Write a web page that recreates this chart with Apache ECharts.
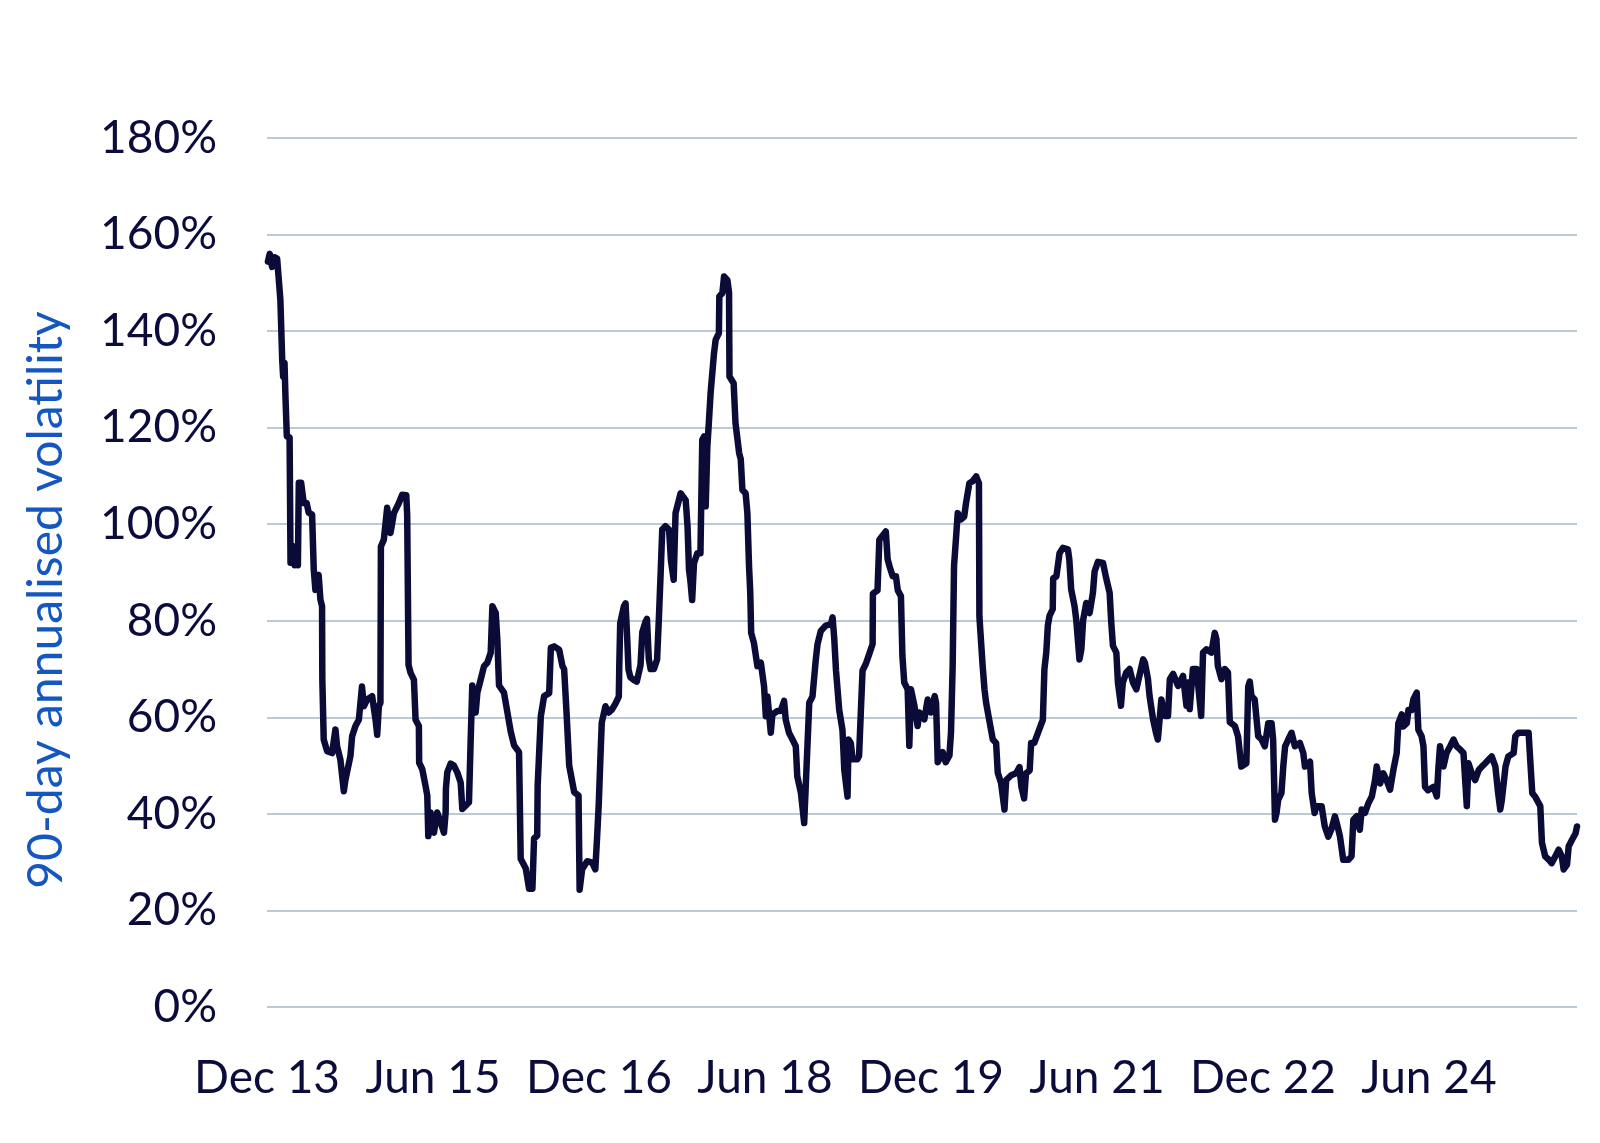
<!DOCTYPE html>
<html>
<head>
<meta charset="utf-8">
<script src="https://cdn.jsdelivr.net/npm/echarts@6/dist/echarts.min.js"></script>
<style>
  html, body { margin: 0; padding: 0; background: #fff; }
  #chart { width: 1600px; height: 1143px; }
</style>
</head>
<body>
<div id="chart"></div>
<script>
// months since Dec 2013 (fractional)
const monthOffset = [
  0.1, 0.3, 0.55, 0.8, 1.1, 1.45, 1.65, 1.75, 1.9, 2.0, 2.15, 2.45, 2.55, 2.8, 3.0, 3.2, 3.35, 3.45, 3.7, 3.98,
  4.3, 4.52, 4.89, 5.07, 5.25, 5.6, 5.79, 5.97, 6.0, 6.15, 6.52, 7.06, 7.42, 7.6, 7.96, 8.33, 8.5, 9.05, 9.23, 9.59,
  9.96, 10.3, 10.5, 10.86, 11.4, 11.77, 11.95, 12.13, 12.3, 12.35, 12.67, 13.03, 13.39, 13.76, 14.3, 14.66, 15.1, 15.2, 15.35, 15.57,
  15.93, 16.11, 16.47, 16.5, 16.83, 17.19, 17.38, 17.49, 17.74, 18.1, 18.46, 18.82, 19.19, 19.37, 19.4, 19.55, 19.91, 20.27, 20.63, 21.0,
  21.18, 21.54, 21.9, 22.08, 22.26, 22.63, 22.81, 23.17, 23.53, 23.89, 24.26, 24.44, 24.8, 24.98, 25.16, 25.7, 26.07, 26.43, 26.79, 27.33,
  27.51, 28.06, 28.42, 28.78, 28.96, 29.3, 29.35, 29.69, 30.05, 30.6, 30.78, 31.14, 31.68, 32.04, 32.22, 32.48, 32.77, 33.31, 33.78, 33.9,
  34.17, 34.72, 35.26, 35.6, 35.8, 35.98, 36.16, 36.3, 36.7, 37.07, 37.4, 37.8, 38.15, 38.2, 38.3, 38.7, 38.88, 39.06, 39.2, 39.4,
  39.8, 40.1, 40.5, 40.7, 41.05, 41.2, 41.4, 41.6, 41.96, 42.3, 42.5, 42.7, 42.86, 43.2, 43.6, 43.8, 44.1, 44.3, 44.85, 45.4,
  45.6, 45.76, 45.9, 46.1, 46.3, 46.66, 47.0, 47.2, 47.4, 47.57, 47.75, 47.93, 48.1, 48.47, 48.65, 49.0, 49.05, 49.38, 49.56, 49.92,
  50.1, 50.15, 50.6, 50.8, 51.2, 51.37, 51.55, 51.9, 52.09, 52.27, 52.4, 52.5, 52.8, 53.18, 53.55, 53.9, 54.09, 54.27, 54.63, 54.8,
  55.35, 55.7, 56.07, 56.25, 56.6, 56.98, 57.34, 57.5, 57.9, 58.25, 58.43, 58.8, 59.15, 59.5, 59.7, 60.05, 60.6, 61.15, 61.33, 61.5,
  61.7, 62.05, 62.4, 62.6, 62.95, 63.06, 63.3, 63.5, 64.0, 64.2, 64.4, 64.58, 64.94, 65.3, 65.67, 65.7, 66.2, 66.4, 67.1, 67.3,
  67.5, 67.85, 68.2, 68.4, 68.74, 68.9, 69.1, 69.47, 69.65, 69.83, 70.2, 70.55, 70.74, 71.28, 71.64, 72.0, 72.4, 72.55, 72.73, 73.27,
  73.6, 74.0, 74.17, 74.35, 74.5, 74.7, 74.9, 75.26, 75.6, 75.8, 76.16, 76.5, 76.9, 77.2, 77.25, 77.6, 77.8, 77.98, 78.3, 78.7,
  79.06, 79.24, 79.6, 79.97, 80.15, 80.7, 81.23, 81.6, 81.8, 82.1, 82.3, 82.7, 82.86, 83.2, 83.6, 84.13, 84.3, 84.5, 84.67, 84.85,
  85.2, 85.25, 85.6, 85.94, 86.3, 86.85, 87.0, 87.2, 87.57, 87.75, 88.1, 88.3, 88.5, 88.84, 89.2, 89.56, 89.74, 90.1, 90.65, 91.0,
  91.37, 91.55, 91.73, 92.1, 92.27, 92.6, 92.8, 93.18, 93.54, 93.9, 94.27, 94.6, 95.0, 95.2, 95.53, 95.7, 96.08, 96.4, 96.6, 96.98,
  97.34, 97.7, 97.9, 98.25, 98.8, 99.33, 99.7, 99.87, 100.05, 100.4, 100.8, 101.3, 101.5, 101.87, 102.4, 102.77, 102.95, 103.1, 103.5, 103.86,
  104.2, 104.4, 104.95, 105.3, 105.65, 106.2, 106.4, 106.57, 106.75, 107.1, 107.48, 107.85, 108.2, 108.57, 108.93, 109.1, 109.3, 109.47, 109.65, 110.0,
  110.2, 110.4, 110.74, 111.1, 111.46, 112.0, 112.37, 112.55, 113.1, 113.28, 113.6, 113.8, 114.36, 114.7, 115.08, 115.4, 115.8, 116.0, 116.35, 116.7,
  117.26, 117.6, 117.8, 118.16, 118.5, 118.7, 119.06, 119.43, 119.8, 120.15, 120.33, 120.7, 121.05, 121.4, 121.78, 122.14, 122.5, 122.68, 123.05, 123.2,
  123.6, 123.77, 124.1, 124.3, 124.67, 124.85, 125.2, 125.4, 125.57, 125.9, 126.5, 126.85, 127.03, 127.2, 127.57, 127.9, 128.3, 128.66, 129.0, 129.4,
  129.74, 130.1, 130.28, 130.64, 131.0, 131.4, 131.73, 132.1, 132.45, 132.8, 133.2, 133.5, 133.73, 133.9, 134.3, 134.6, 135.18, 135.36, 135.7, 136.3,
  136.8, 137.0, 137.2, 137.5, 138.07, 138.25, 138.6, 139.0, 139.3, 139.7, 140.06, 140.4, 140.6, 140.97, 141.15, 141.5, 141.9, 142.05
];

// 90-day annualised volatility, %
const volatility = [
  154.4, 156, 153.3, 155.3, 155, 146.5, 134, 130.6, 133.4, 126.5, 118.2, 118, 92, 95.5, 91.5, 95, 91.5, 108.6, 108.6, 104.4,
  104.4, 102.4, 102, 90.6, 86.4, 89.5, 84.4, 83, 67.8, 55.4, 53, 52.6, 57.5, 54, 51.2, 44.7, 47, 52, 56.1, 58.2,
  59.5, 66.4, 62.3, 63.7, 64.4, 59.5, 56.4, 62.3, 63, 95.4, 96.8, 103.4, 98.2, 102.3, 104.4, 106.1, 106, 102, 70.8, 69.2,
  67.8, 59.5, 58.2, 50.6, 49.3, 45.8, 43.8, 35.4, 40.3, 36.1, 40.3, 38.3, 36.1, 40.3, 45.2, 48.6, 50.4, 50, 48.6, 46.5,
  41, 41.7, 42.4, 54.9, 66.6, 61, 65.1, 67.8, 70.6, 71.3, 73.4, 83, 81.6, 76, 66.6, 65.1, 61, 57, 54.2, 52.8,
  30.7, 28.7, 24.5, 24.5, 34.9, 35.5, 45.9, 60.2, 64.4, 65, 74.4, 74.7, 74, 70.6, 70, 61, 50, 44.5, 43.8, 24.3,
  28.5, 30.2, 29.9, 28.5, 35.4, 42.3, 51.9, 58.9, 62.3, 61, 61.6, 62.9, 64.3, 70.6, 79.5, 83, 83.6, 76.3, 69.9, 68.3,
  67.7, 67.4, 70.8, 77.7, 79.8, 80.4, 72.1, 70, 70, 72, 80.8, 90.6, 98.9, 99.6, 98.9, 92.5, 88.5, 102.3, 106.4, 105,
  99.6, 90.6, 88.5, 84.3, 91.9, 94, 94, 117.5, 118.2, 103.7, 116.1, 121.6, 127.1, 135.4, 138.2, 139.6, 147.2, 147.9, 151.3, 150.6,
  148, 130.6, 129.2, 121, 114.7, 113.5, 107.1, 106.4, 102.3, 91.3, 86, 77.5, 75.4, 70.6, 71.3, 66.4, 60.2, 64.3, 56.8, 60.6,
  61.3, 61.3, 63.4, 59.5, 56.8, 55.4, 54, 47.8, 44.3, 38.1, 37.8, 63, 64.3, 71.8, 75.2, 77.9, 79, 79.3, 80.7, 76.6,
  69.7, 61.5, 57.4, 49.1, 43.6, 55.4, 54.7, 51.3, 51.3, 52, 61.5, 69.7, 71.1, 73.1, 75.2, 85.6, 86.3, 96.8, 98.5, 92.7,
  91.3, 89.2, 89.2, 86.3, 85.1, 72.7, 67.2, 65.8, 54.1, 65.8, 62.4, 58.2, 61, 59.6, 63.7, 61, 64.4, 63, 50.7, 52.8,
  50.7, 52.1, 56.9, 70.7, 91.4, 96.8, 102.3, 101, 101.6, 104.4, 108.5, 108.9, 109.9, 108.5, 80.9, 70.7, 65.8, 63, 59.6, 55.4,
  54.7, 48.5, 46.4, 40.9, 47, 48, 48.4, 49.7, 45.6, 43.2, 48.4, 49, 54.7, 54.7, 56.8, 59.5, 70, 73.4, 79, 81,
  82.4, 88.8, 89.2, 94, 95.1, 94.8, 92.7, 86.5, 83, 80.2, 72, 74, 80.2, 83.7, 81.6, 85.8, 90.2, 92.2, 92, 88.8,
  85.8, 79.6, 74.8, 73.4, 67.2, 62.4, 67.2, 69.3, 70, 67.2, 65.8, 68.6, 72, 71.3, 67.9, 64.4, 59.6, 56.8, 55.4, 63.7,
  60.3, 60.3, 67.9, 69, 66.5, 68.6, 62.4, 67.2, 61.7, 70, 70, 60.3, 73.4, 74.1, 73.4, 77.5, 76.2, 70.7, 67.9, 70,
  69.3, 59, 58.2, 56, 49.8, 50.5, 66.4, 67.4, 64.4, 63.7, 56.1, 55.4, 54, 58.8, 58.8, 55.4, 38.8, 40.2, 42.9, 44.3,
  49.8, 54, 55.4, 56.8, 54, 54.7, 52.6, 49.8, 50.8, 44.3, 40.2, 41.6, 41.6, 37.4, 35.3, 36.7, 39.5, 38.1, 35.3, 30.5,
  30.5, 31.2, 38.8, 39.5, 36.7, 40.9, 40.2, 42.2, 43.6, 47, 49.8, 46.3, 48.4, 47, 45, 49.1, 52.6, 58.8, 60.6, 58.1,
  58.8, 61.5, 61.5, 63.7, 65.1, 57.4, 56.1, 54, 45.6, 44.9, 45.6, 43.6, 49.8, 54, 49.8, 52.6, 54, 55.4, 54, 53.3,
  52.6, 41.6, 50.5, 48.4, 47, 49.1, 49.8, 50.5, 51.2, 51.9, 49.8, 44.3, 40.9, 42.9, 49.8, 51.9, 52.6, 56.1, 56.8, 56.8,
  56.8, 50.5, 44.3, 43.6, 41.6, 34, 31.2, 30.5, 29.8, 31.2, 32.6, 31.2, 28.5, 29.5, 33.3, 34.6, 36, 37.4
];

// x tick labels, one every 18 months from Dec 2013
const tickLabels = ['Dec 13', 'Jun 15', 'Dec 16', 'Jun 18', 'Dec 19', 'Jun 21', 'Dec 22', 'Jun 24'];
const tickStep = 18;

const textColor = '#0c0c3c';
const fontFamily = 'Lato, "Open Sans", sans-serif';

const chart = echarts.init(document.getElementById('chart'));

chart.setOption({
  animation: false,
  backgroundColor: '#ffffff',
  grid: { left: 267, right: 23, top: 138, bottom: 136, containLabel: false },
  xAxis: {
    type: 'value',
    min: 0,
    max: monthOffset[monthOffset.length - 1],
    interval: tickStep,
    axisLine: { show: false },
    axisTick: { show: false },
    splitLine: { show: false },
    axisLabel: {
      color: textColor,
      fontFamily: fontFamily,
      fontSize: 46,
      margin: 48,
      showMaxLabel: false,
      formatter: function (v) {
        const i = Math.round(v / tickStep);
        return Math.abs(v - i * tickStep) < 1e-6 && tickLabels[i] ? tickLabels[i] : '';
      }
    }
  },
  yAxis: {
    type: 'value',
    min: 0,
    max: 180,
    interval: 20,
    axisLine: { show: false },
    axisTick: { show: false },
    splitLine: { show: true, lineStyle: { color: '#bccad6', width: 2 } },
    axisLabel: {
      color: textColor,
      fontFamily: fontFamily,
      fontSize: 46,
      margin: 50,
      formatter: '{value}%'
    }
  },
  graphic: [{
    type: 'text',
    x: 47,
    y: 600,
    rotation: Math.PI / 2,
    style: {
      text: '90-day annualised volatility',
      fill: '#1557c0',
      font: '48px ' + fontFamily,
      textAlign: 'center',
      textVerticalAlign: 'middle'
    }
  }],
  series: [{
    type: 'line',
    data: monthOffset.map((m, i) => [m, volatility[i]]),
    showSymbol: false,
    symbol: 'none',
    smooth: false,
    sampling: 'none',
    lineStyle: { color: '#0b0b38', width: 6.5, join: 'round', cap: 'round' }
  }]
});
</script>
</body>
</html>
